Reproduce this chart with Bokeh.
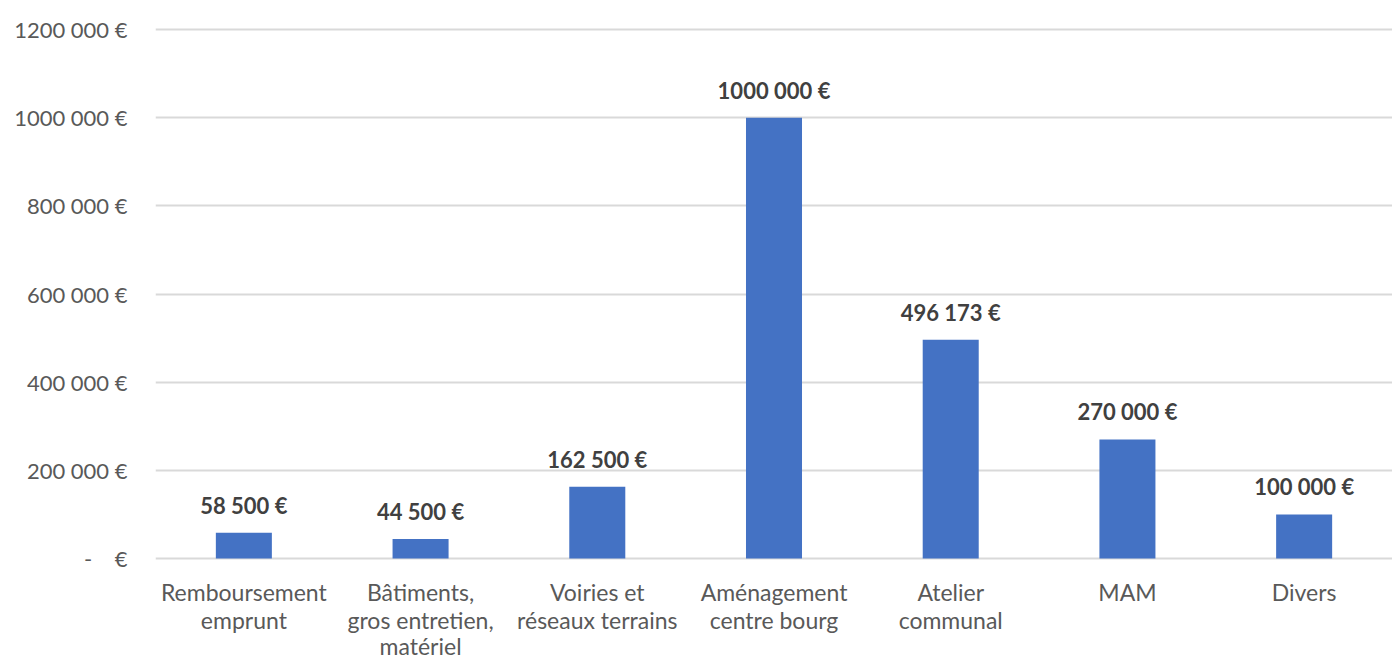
from bokeh.plotting import figure
from bokeh.models import ColumnDataSource, FixedTicker, Range1d, FactorRange
from bokeh.core.properties import value
from bokeh.embed import file_html
from bokeh.resources import INLINE

categories = ["Remboursement emprunt", "Bâtiments, gros entretien, matériel",
              "Voiries et réseaux terrains", "Aménagement centre bourg",
              "Atelier communal", "MAM", "Divers"]
axis_labels = ["Remboursement\nemprunt", "Bâtiments,\ngros entretien,\nmatériel",
               "Voiries et\nréseaux terrains", "Aménagement\ncentre bourg",
               "Atelier\ncommunal", "MAM", "Divers"]
amounts = [58500, 44500, 162500, 1000000, 496173, 270000, 100000]
value_labels = ["58 500 €", "44 500 €", "162 500 €", "1000 000 €", "496 173 €", "270 000 €", "100 000 €"]
y_ticks = [0, 200000, 400000, 600000, 800000, 1000000, 1200000]
y_tick_labels = ["-\u00a0\u00a0\u00a0\u00a0€", "200 000 €", "400 000 €", "600 000 €", "800 000 €",
                 "1000 000 €", "1200 000 €"]

FONT = "Lato"

W, H = 1392, 661
TOP, ZERO_Y = 27, 558          # screen rows of the frame top and of the zero line
Y_MAX = 1200000
px_per_unit = (ZERO_Y - TOP - 2) / Y_MAX
y_end = Y_MAX + 2 / px_per_unit
y_start = -(H - ZERO_Y) / px_per_unit

lines = [lab.split("\n") + [""] * (3 - len(lab.split("\n"))) for lab in axis_labels]
src = ColumnDataSource(dict(cat=categories, amt=amounts, lab=value_labels,
                            zero=[0] * len(categories),
                            l1=[l[0] for l in lines], l2=[l[1] for l in lines], l3=[l[2] for l in lines]))

p = figure(width=W, height=H, x_range=FactorRange(*categories, range_padding=0),
           y_range=Range1d(y_start, y_end), output_backend="svg", toolbar_location=None,
           min_border_left=155, min_border_right=0, min_border_top=TOP, min_border_bottom=0)
p.outline_line_color = None
p.background_fill_color = "white"

p.vbar(x="cat", top="amt", bottom=0, width=0.317, source=src, fill_color="#4472C4", line_color=None)
p.text(x="cat", y="amt", text="lab", source=src, text_align="center", text_baseline="bottom",
       y_offset=-14, text_font=value(FONT), text_font_style="bold", text_font_size="22px",
       text_color="#404040")

for col, off in (("l1", 33), ("l2", 61), ("l3", 87)):
    p.text(x="cat", y="zero", text=col, source=src, text_align="center", text_baseline="middle",
           y_offset=off, text_font=value(FONT), text_font_size="23px", text_color="#595959")

p.yaxis.ticker = FixedTicker(ticks=y_ticks)
p.yaxis.major_label_overrides = {t: l for t, l in zip(y_ticks, y_tick_labels)}
p.yaxis.axis_line_color = None
p.yaxis.major_tick_line_color = None
p.yaxis.minor_tick_line_color = None
p.yaxis.major_label_standoff = 22
p.yaxis.major_label_text_font = FONT
p.yaxis.major_label_text_font_size = "22px"
p.yaxis.major_label_text_color = "#595959"

p.xaxis.visible = False

p.xgrid.grid_line_color = None
p.ygrid.grid_line_color = "#D9D9D9"
p.ygrid.grid_line_width = 2

open("out.html", "w").write(file_html(p, INLINE))
